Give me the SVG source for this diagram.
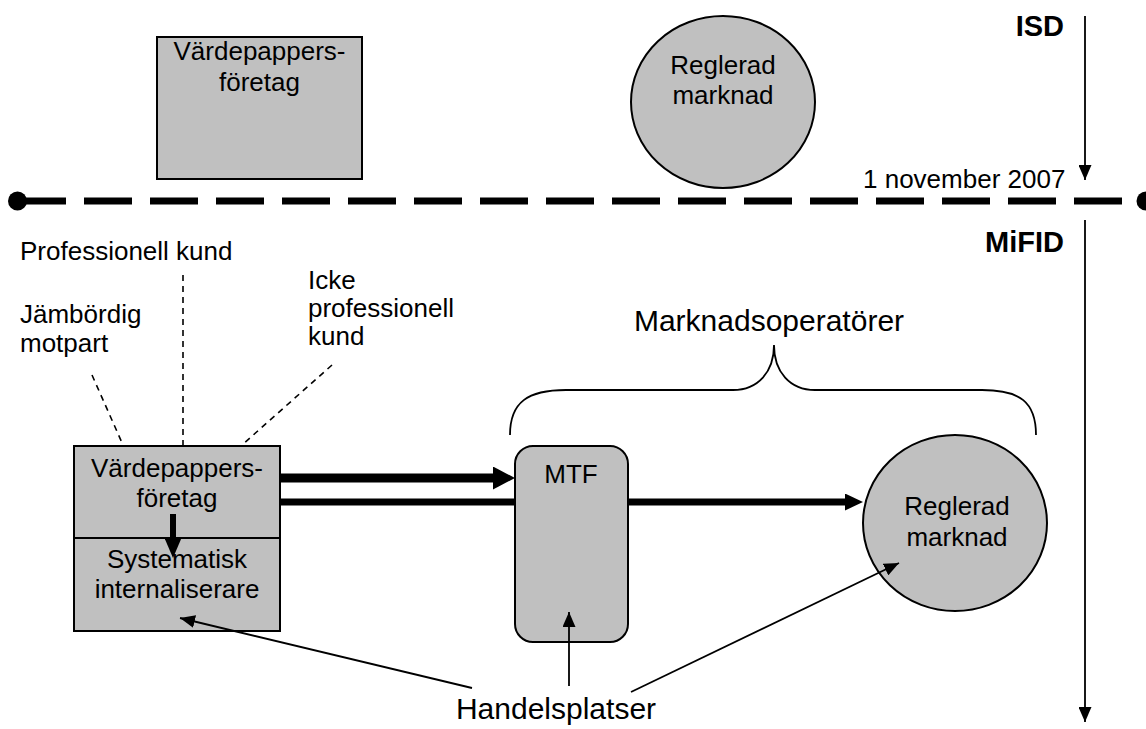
<svg xmlns="http://www.w3.org/2000/svg" width="1146" height="729" viewBox="0 0 1146 729">
<style>
.t{font-family:"Liberation Sans",Arial,sans-serif;font-size:26px;fill:#000}
.big{font-size:30px}
.b{font-weight:bold;font-size:29px}
.c{text-anchor:middle}
.e{text-anchor:end}
.node{fill:#c0c0c0;stroke:#000;stroke-width:2}
.thin{stroke:#000;stroke-width:1.8;fill:none}
.dash{stroke:#000;stroke-width:1.6;stroke-dasharray:6 5;fill:none}
</style>
<defs>
<marker id="hBig" markerUnits="userSpaceOnUse" markerWidth="22" markerHeight="23" viewBox="0 0 22 23" refX="0" refY="11.5" orient="auto"><path d="M0,0 L22,11.5 L0,23 z" fill="#000"/></marker>
<marker id="hMid" markerUnits="userSpaceOnUse" markerWidth="18" markerHeight="17" viewBox="0 0 18 17" refX="0" refY="8.5" orient="auto"><path d="M0,0 L18,8.5 L0,17 z" fill="#000"/></marker>
<marker id="hDown" markerUnits="userSpaceOnUse" markerWidth="20" markerHeight="17" viewBox="0 0 20 17" refX="0" refY="8.5" orient="auto"><path d="M0,0 L20,8.5 L0,17 z" fill="#000"/></marker>
<marker id="hThin" markerUnits="userSpaceOnUse" markerWidth="15" markerHeight="13" viewBox="0 0 15 13" refX="15" refY="6.5" orient="auto"><path d="M0,0 L15,6.5 L0,13 z" fill="#000"/></marker>
</defs>

<g id="timeline">
<line x1="18" y1="201" x2="1146" y2="201" stroke="#000" stroke-width="7" stroke-dasharray="48 18"/>
<circle cx="17.5" cy="201" r="9.5" fill="#000"/>
<circle cx="1146" cy="201" r="9.5" fill="#000"/>
<text class="t" x="863" y="188">1 november 2007</text>
</g>

<g id="isd">
<text class="t b e" x="1064" y="36">ISD</text>
</g>
<g id="mifid">
<text class="t b e" x="1064" y="252">MiFID</text>
</g>

<g id="top-vpf">
<rect class="node" x="157" y="37" width="205" height="142"/>
<text class="t c" x="259.5" y="60">Värdepappers-</text>
<text class="t c" x="259.5" y="91">företag</text>
</g>

<g id="top-rm">
<ellipse class="node" cx="723" cy="102" rx="92" ry="86"/>
<text class="t c" x="723" y="74">Reglerad</text>
<text class="t c" x="723" y="104">marknad</text>
</g>

<g id="label-prof">
<text class="t" x="20" y="260">Professionell kund</text>
</g>
<g id="label-jamb">
<text class="t" x="20" y="323">Jämbördig</text>
<text class="t" x="20" y="352">motpart</text>
</g>
<g id="label-icke">
<text class="t" x="308" y="289">Icke</text>
<text class="t" x="308" y="317">professionell</text>
<text class="t" x="308" y="345">kund</text>
</g>

<g id="label-mo">
<text class="t big c" x="769" y="331">Marknadsoperatörer</text>
</g>

<g id="vpf">
<rect class="node" x="74" y="446" width="206" height="185"/>
<line x1="74" y1="538" x2="280" y2="538" stroke="#000" stroke-width="2"/>
<text class="t c" x="177" y="477">Värdepappers-</text>
<text class="t c" x="177" y="507">företag</text>
<text class="t c" x="177" y="568">Systematisk</text>
<text class="t c" x="177" y="598">internaliserare</text>
</g>

<g id="mtf">
<rect class="node" x="515" y="446" width="113" height="196" rx="18" ry="18"/>
<text class="t c" x="571" y="483">MTF</text>
</g>

<g id="rm">
<ellipse class="node" cx="955" cy="523" rx="92" ry="88"/>
<text class="t c" x="957" y="515">Reglerad</text>
<text class="t c" x="957" y="546">marknad</text>
</g>

<g id="label-hp">
<text class="t big c" x="556" y="719">Handelsplatser</text>
</g>

<g id="connectors">
<line x1="1085" y1="16" x2="1085" y2="180" class="thin" marker-end="url(#hThin)"/>
<line x1="1085" y1="220" x2="1085" y2="722" class="thin" marker-end="url(#hThin)"/>
<line class="dash" x1="92" y1="375" x2="123" y2="445"/>
<line class="dash" x1="183" y1="275" x2="183" y2="446"/>
<line class="dash" x1="332" y1="365" x2="242" y2="445"/>
<path class="thin" d="M510,435 C510,402 528,390 566,390 L733,390 C758,390 774,372 774,345 C774,372 790,390 815,390 L982,390 C1020,390 1036,402 1036,435"/>
<line x1="280" y1="478" x2="493" y2="478" stroke="#000" stroke-width="9" marker-end="url(#hBig)"/>
<line x1="280" y1="502" x2="515" y2="502" stroke="#000" stroke-width="7"/>
<line x1="628" y1="502" x2="845" y2="502" stroke="#000" stroke-width="7" marker-end="url(#hMid)"/>
<line x1="173" y1="514" x2="173" y2="538" stroke="#000" stroke-width="6" marker-end="url(#hDown)"/>
<line x1="472" y1="688" x2="180" y2="618" class="thin" marker-end="url(#hThin)"/>
<line x1="569" y1="686" x2="569" y2="612" class="thin" marker-end="url(#hThin)"/>
<line x1="631" y1="692" x2="899" y2="563" class="thin" marker-end="url(#hThin)"/>
</g>
</svg>
